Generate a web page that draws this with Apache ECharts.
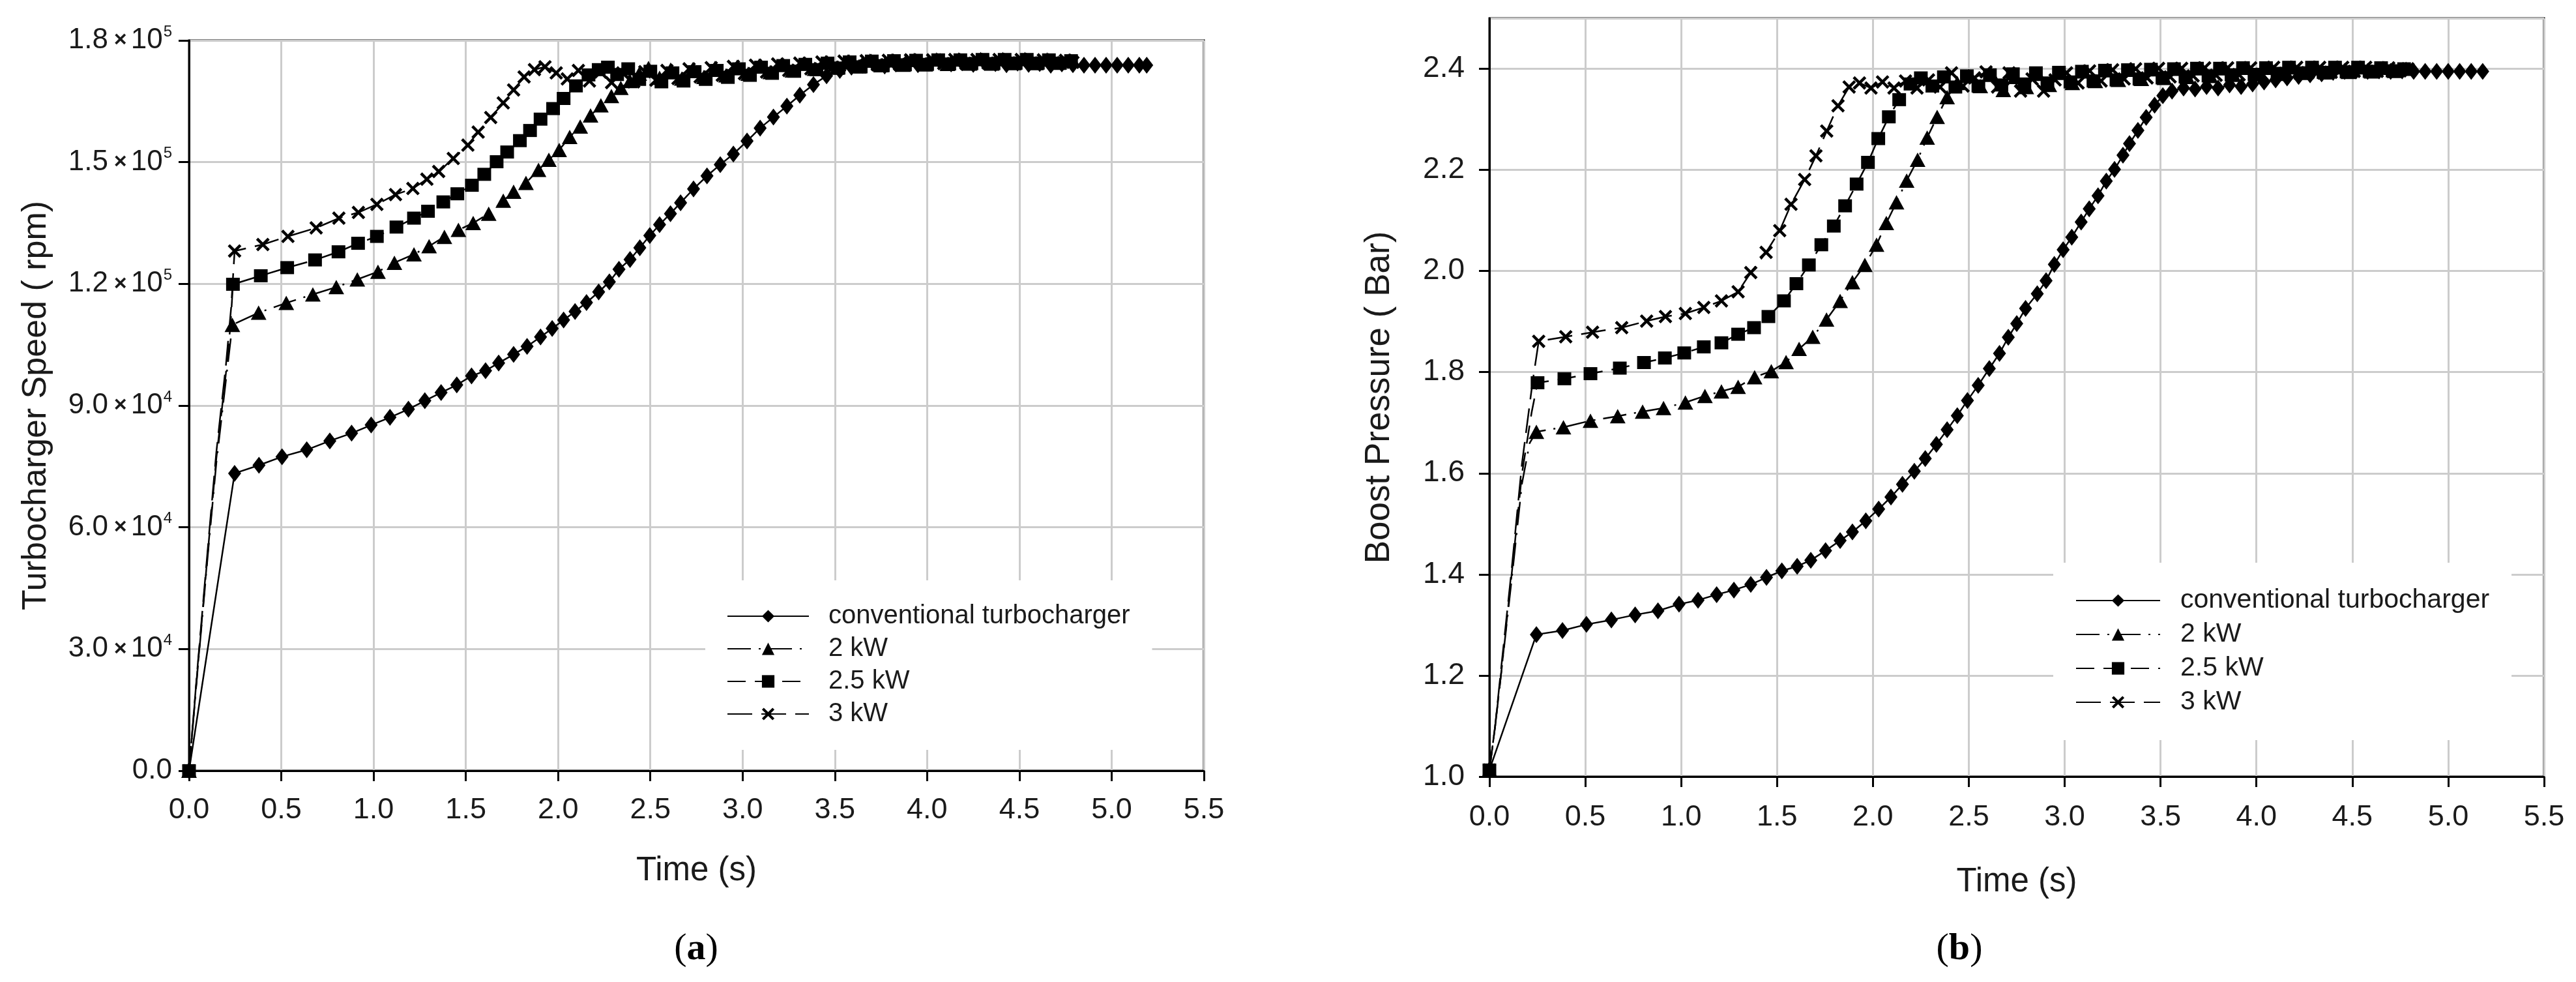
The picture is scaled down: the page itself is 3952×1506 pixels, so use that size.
<!DOCTYPE html>
<html><head><meta charset="utf-8">
<script src="https://cdn.jsdelivr.net/npm/echarts@6/dist/echarts.min.js"></script>
<style>html,body{margin:0;padding:0;background:#fff}#c{width:3952px;height:1506px}</style>
</head><body><div id="c"></div>
<script>
// ---------- DATA ----------
const seriesNames = ['conventional turbocharger', '2 kW', '2.5 kW', '3 kW'];
const timeTicks = [0, 5.5, 0.5];            // min, max, step (s)
const speedTicks = [0, 180000, 30000];      // min, max, step (rpm)
const pressureTicks = [1.0, 2.5, 0.2];      // min, max, step (bar)

// (a) Turbocharger speed [time s, rpm]
const speedConventional = [[0,0],[0.247,73300],[0.379,75300],[0.504,77400],[0.638,79100],[0.763,81300],[0.881,83200],[0.987,85200],[1.089,87100],[1.189,89100],[1.278,91200],[1.366,93200],[1.451,95100],[1.531,97300],[1.607,98600],[1.678,100500],[1.759,102600],[1.832,104600],[1.905,106900],[1.968,109000],[2.03,111100],[2.092,113200],[2.154,115400],[2.22,118000],[2.278,120500],[2.33,123600],[2.39,126000],[2.443,128900],[2.497,131900],[2.55,134600],[2.609,137300],[2.664,140000],[2.734,143400],[2.807,146600],[2.879,149400],[2.95,152000],[3.024,155200],[3.095,158400],[3.167,161100],[3.24,163800],[3.31,166500],[3.384,169100],[3.455,171300],[3.527,172600],[3.59,173400],[3.65,173900],[3.71,174300],[3.77,173700],[3.83,174200],[3.89,174600],[3.95,174000],[4.01,174400],[4.07,174800],[4.13,174200],[4.19,174500],[4.25,174100],[4.31,174600],[4.37,174300],[4.43,174000],[4.49,174400],[4.55,174100],[4.61,174300],[4.67,173900],[4.73,174200],[4.79,174000],[4.85,173900],[4.91,173900],[4.97,173900],[5.03,173900],[5.09,173900],[5.15,173900],[5.19,173900]];
const speed2kW = [[0,0],[0.046,24600],[0.106,55300],[0.148,75900],[0.2,96300],[0.235,109900],[0.377,112900],[0.527,115300],[0.671,117400],[0.798,119200],[0.912,121100],[1.024,123000],[1.113,125200],[1.219,127300],[1.301,129300],[1.384,131600],[1.46,133300],[1.54,135000],[1.624,137300],[1.703,140500],[1.759,142700],[1.826,144900],[1.894,148100],[1.95,150600],[2.006,153000],[2.063,156200],[2.12,158800],[2.176,161500],[2.232,164000],[2.289,166300],[2.34,168300],[2.39,170000],[2.44,171800],[2.49,173200],[2.55,170800],[2.61,172800],[2.67,170600],[2.73,172900],[2.79,171000],[2.85,173200],[2.91,171400],[2.97,173500],[3.03,171800],[3.09,173800],[3.15,172200],[3.21,174000],[3.27,172600],[3.33,174300],[3.39,173000],[3.45,174600],[3.51,173300],[3.57,174800],[3.63,173600],[3.69,175000],[3.75,173900],[3.81,175100],[3.87,174000],[3.93,175200],[3.99,174100],[4.05,175300],[4.11,174200],[4.17,175300],[4.23,174300],[4.29,175400],[4.35,174300],[4.41,175400],[4.47,174400],[4.53,175400],[4.59,174400],[4.65,175300],[4.71,174500],[4.77,175100]];
const speed25kW = [[0,0],[0.046,25000],[0.106,56000],[0.148,77000],[0.2,98000],[0.225,110000],[0.238,119900],[0.389,122000],[0.532,124000],[0.683,125900],[0.81,127900],[0.916,130000],[1.018,131700],[1.124,134000],[1.219,136200],[1.295,137900],[1.378,140200],[1.454,142200],[1.533,144300],[1.6,147000],[1.667,150100],[1.724,152500],[1.793,155300],[1.848,157800],[1.905,160600],[1.973,163200],[2.03,165700],[2.097,168800],[2.165,171500],[2.22,172800],[2.27,173400],[2.32,171600],[2.38,173000],[2.44,170400],[2.5,172400],[2.56,169800],[2.62,172000],[2.68,170000],[2.74,172300],[2.8,170400],[2.86,172600],[2.92,170900],[2.98,173000],[3.04,171400],[3.1,173400],[3.16,171900],[3.22,173800],[3.28,172400],[3.34,174100],[3.4,172800],[3.46,174400],[3.52,173200],[3.58,174700],[3.64,173500],[3.7,174900],[3.76,173800],[3.82,175000],[3.88,174000],[3.94,175100],[4.0,174100],[4.06,175200],[4.12,174200],[4.18,175200],[4.24,174300],[4.3,175300],[4.36,174300],[4.42,175300],[4.48,174400],[4.54,175300],[4.6,174400],[4.66,175200],[4.72,174400],[4.78,175000]];
const speed3kW = [[0,0],[0.046,25500],[0.106,57000],[0.148,78500],[0.2,100000],[0.228,114000],[0.247,128100],[0.4,129700],[0.536,131700],[0.689,133800],[0.812,136200],[0.918,137600],[1.018,139600],[1.119,142000],[1.213,143500],[1.289,145800],[1.353,147700],[1.432,150900],[1.511,154200],[1.567,157400],[1.635,161000],[1.703,164600],[1.759,167800],[1.816,171000],[1.872,172800],[1.929,173500],[1.99,172000],[2.05,170500],[2.11,172600],[2.17,170000],[2.23,172200],[2.29,169600],[2.35,172000],[2.41,169800],[2.47,172300],[2.53,170200],[2.59,172600],[2.65,170600],[2.71,173000],[2.77,171000],[2.83,173300],[2.89,171400],[2.95,173600],[3.01,171800],[3.07,173900],[3.13,172200],[3.19,174200],[3.25,172600],[3.31,174400],[3.37,173000],[3.43,174700],[3.49,173400],[3.55,174900],[3.61,173700],[3.67,175000],[3.73,174000],[3.79,175100],[3.85,174100],[3.91,175200],[3.97,174200],[4.03,175200],[4.09,174300],[4.15,175300],[4.21,174300],[4.27,175300],[4.33,174400],[4.39,175300],[4.45,174400],[4.51,175300],[4.57,174400],[4.63,175200],[4.69,174400],[4.75,175100],[4.79,174600]];

// (b) Boost pressure [time s, bar]
const pressureConventional = [[0,1.013],[0.245,1.281],[0.381,1.289],[0.506,1.301],[0.636,1.310],[0.76,1.320],[0.879,1.328],[0.989,1.341],[1.088,1.349],[1.185,1.360],[1.275,1.369],[1.363,1.380],[1.445,1.394],[1.525,1.407],[1.605,1.416],[1.676,1.428],[1.753,1.447],[1.829,1.467],[1.893,1.484],[1.963,1.506],[2.03,1.529],[2.094,1.553],[2.154,1.578],[2.216,1.604],[2.273,1.629],[2.331,1.657],[2.387,1.686],[2.44,1.714],[2.493,1.744],[2.549,1.774],[2.607,1.807],[2.66,1.837],[2.706,1.869],[2.75,1.896],[2.796,1.926],[2.857,1.955],[2.903,1.981],[2.946,2.013],[2.992,2.042],[3.037,2.067],[3.086,2.097],[3.128,2.123],[3.174,2.149],[3.217,2.178],[3.26,2.201],[3.304,2.229],[3.338,2.252],[3.382,2.278],[3.425,2.304],[3.469,2.328],[3.512,2.347],[3.56,2.356],[3.62,2.362],[3.68,2.360],[3.74,2.365],[3.8,2.362],[3.86,2.368],[3.92,2.365],[3.98,2.370],[4.04,2.374],[4.1,2.378],[4.16,2.382],[4.22,2.385],[4.28,2.388],[4.34,2.390],[4.4,2.393],[4.46,2.395],[4.52,2.396],[4.58,2.395],[4.64,2.396],[4.7,2.395],[4.76,2.396],[4.82,2.395],[4.88,2.395],[4.94,2.395],[5.0,2.395],[5.06,2.395],[5.12,2.395],[5.18,2.395]];
const pressure2kW = [[0,1.013],[0.03,1.1],[0.06,1.2],[0.116,1.39],[0.17,1.58],[0.21,1.66],[0.245,1.682],[0.386,1.691],[0.527,1.704],[0.669,1.713],[0.799,1.722],[0.908,1.729],[1.022,1.740],[1.124,1.753],[1.21,1.762],[1.297,1.771],[1.383,1.790],[1.47,1.802],[1.547,1.820],[1.615,1.846],[1.686,1.870],[1.758,1.904],[1.829,1.941],[1.893,1.978],[1.958,2.012],[2.019,2.052],[2.07,2.095],[2.123,2.136],[2.176,2.179],[2.233,2.220],[2.283,2.264],[2.335,2.305],[2.387,2.344],[2.44,2.372],[2.5,2.386],[2.56,2.366],[2.62,2.388],[2.68,2.358],[2.74,2.384],[2.8,2.364],[2.86,2.390],[2.92,2.368],[2.98,2.392],[3.04,2.372],[3.1,2.395],[3.16,2.376],[3.22,2.397],[3.28,2.378],[3.34,2.398],[3.4,2.380],[3.46,2.399],[3.52,2.382],[3.58,2.400],[3.64,2.384],[3.7,2.401],[3.76,2.386],[3.82,2.401],[3.88,2.388],[3.94,2.402],[4.0,2.389],[4.06,2.402],[4.12,2.390],[4.18,2.403],[4.24,2.392],[4.3,2.403],[4.36,2.393],[4.42,2.403],[4.48,2.394],[4.54,2.403],[4.6,2.395],[4.66,2.402],[4.72,2.396],[4.78,2.400]];
const pressure25kW = [[0,1.013],[0.03,1.1],[0.06,1.2],[0.116,1.40],[0.17,1.60],[0.22,1.72],[0.251,1.779],[0.391,1.787],[0.527,1.797],[0.68,1.808],[0.806,1.819],[0.915,1.828],[1.016,1.838],[1.118,1.850],[1.21,1.858],[1.297,1.875],[1.38,1.888],[1.455,1.910],[1.536,1.941],[1.601,1.975],[1.666,2.012],[1.731,2.052],[1.796,2.089],[1.855,2.129],[1.915,2.172],[1.974,2.215],[2.028,2.262],[2.083,2.305],[2.137,2.339],[2.196,2.370],[2.25,2.382],[2.31,2.366],[2.37,2.384],[2.43,2.364],[2.49,2.386],[2.55,2.366],[2.61,2.388],[2.67,2.368],[2.73,2.390],[2.79,2.370],[2.85,2.392],[2.91,2.372],[2.97,2.393],[3.03,2.374],[3.09,2.395],[3.15,2.376],[3.21,2.397],[3.27,2.378],[3.33,2.398],[3.39,2.380],[3.45,2.399],[3.51,2.382],[3.57,2.400],[3.63,2.384],[3.69,2.401],[3.75,2.386],[3.81,2.401],[3.87,2.388],[3.93,2.402],[3.99,2.389],[4.05,2.402],[4.11,2.391],[4.17,2.403],[4.23,2.392],[4.29,2.403],[4.35,2.393],[4.41,2.403],[4.47,2.394],[4.53,2.403],[4.59,2.395],[4.65,2.402],[4.71,2.396],[4.77,2.400]];
const pressure3kW = [[0,1.013],[0.03,1.1],[0.06,1.21],[0.116,1.41],[0.17,1.62],[0.225,1.78],[0.257,1.861],[0.398,1.870],[0.538,1.879],[0.69,1.888],[0.82,1.901],[0.918,1.910],[1.022,1.916],[1.118,1.928],[1.21,1.941],[1.297,1.959],[1.363,1.997],[1.443,2.037],[1.514,2.080],[1.573,2.132],[1.644,2.181],[1.703,2.228],[1.759,2.277],[1.818,2.327],[1.876,2.364],[1.93,2.372],[1.99,2.362],[2.05,2.374],[2.11,2.362],[2.17,2.376],[2.23,2.362],[2.29,2.378],[2.35,2.364],[2.41,2.392],[2.47,2.366],[2.53,2.382],[2.59,2.394],[2.65,2.364],[2.71,2.392],[2.77,2.356],[2.83,2.380],[2.89,2.356],[2.95,2.378],[3.01,2.392],[3.07,2.372],[3.13,2.396],[3.19,2.376],[3.25,2.398],[3.31,2.380],[3.37,2.400],[3.43,2.382],[3.49,2.401],[3.55,2.384],[3.61,2.401],[3.67,2.386],[3.73,2.402],[3.79,2.387],[3.85,2.402],[3.91,2.388],[3.97,2.402],[4.03,2.389],[4.09,2.403],[4.15,2.391],[4.21,2.403],[4.27,2.392],[4.33,2.403],[4.39,2.393],[4.45,2.403],[4.51,2.395],[4.57,2.403],[4.63,2.395],[4.69,2.402],[4.75,2.396],[4.79,2.400]];

// ---------- STYLE / BUILD ----------
const FONT = '"Liberation Sans", Arial, sans-serif';
const SERIF = '"Liberation Serif", serif';
const TXT = '#1a1a1a';
const crossPath = 'path://M0,3 L3,0 L10,7 L17,0 L20,3 L13,10 L20,17 L17,20 L10,13 L3,20 L0,17 L7,10 Z';
const styles = [
  {symbol:'diamond', size:[20,26], dash:'solid'},
  {symbol:'triangle', size:[24,22], dash:[36,12,3,12]},
  {symbol:'rect', size:[21,20], dash:[28,14]},
  {symbol:crossPath, size:[21,21], dash:[38,14]}
];
// points on the steep initial rise carry no marker
const toData = arr => arr.map(p => (p[0] > 0 && p[0] < 0.23) ? {value:p, symbol:'none'} : {value:p});

function mkSeries(arrs, gridIdx) {
  return arrs.map((arr, i) => ({
    type:'line', name: seriesNames[i], xAxisIndex:gridIdx, yAxisIndex:gridIdx,
    data: toData(arr), symbol: styles[i].symbol, symbolSize: styles[i].size,
    showAllSymbol:true, smooth:false, clip:true,
    lineStyle:{color:'#000', width:2.5, type:styles[i].dash},
    itemStyle:{color:'#000'}, emphasis:{disabled:true}, z: 3 + i
  }));
}

function xAxis(gi, labelMargin, nameGap) {
  return {
    type:'value', gridIndex:gi, min:timeTicks[0], max:timeTicks[1], interval:timeTicks[2],
    name:'Time (s)', nameLocation:'middle', nameGap:nameGap,
    nameTextStyle:{fontSize:51, fontFamily:FONT, color:TXT},
    axisLine:{show:true, onZero:false, lineStyle:{color:'#000', width:3}},
    axisTick:{show:true, inside:false, length:16, lineStyle:{color:'#000', width:3}},
    axisLabel:{fontSize:45, fontFamily:FONT, color:TXT, margin:labelMargin, formatter:v=>v.toFixed(1)},
    splitLine:{show:true, lineStyle:{color:'#cccccc', width:3}}
  };
}

const supFmt = v => {
  if (v === 0) return '{n|0.0}';
  const e = Math.floor(Math.log10(v) + 1e-9);
  const m = (v / Math.pow(10, e)).toFixed(1);
  return '{n|' + m + '}{x|×}{n|10}{s|' + e + '}';
};

const captionRich = {p:{fontSize:58, fontFamily:SERIF, fill:'#000'}, b:{fontSize:58, fontWeight:'bold', fontFamily:SERIF, fill:'#000'}};

const option = {
  animation:false,
  backgroundColor:'#fff',
  grid:[
    {left:290, top:62, width:1557, height:1120, show:true, borderColor:'#000', borderWidth:3, backgroundColor:'transparent'},
    {left:2285, top:28, width:1618, height:1163, show:true, borderColor:'#000', borderWidth:3, backgroundColor:'transparent'}
  ],
  xAxis:[ xAxis(0, 38, 128), xAxis(1, 40, 136) ],
  yAxis:[
    {type:'value', gridIndex:0, min:speedTicks[0], max:speedTicks[1], interval:speedTicks[2],
     name:'Turbocharger Speed ( rpm)', nameLocation:'middle', nameGap:208,
     nameTextStyle:{fontSize:52, fontFamily:FONT, color:TXT},
     axisLine:{show:true, onZero:false, lineStyle:{color:'#000', width:3}},
     axisTick:{show:true, length:16, lineStyle:{color:'#000', width:3}},
     axisLabel:{margin:26, formatter:supFmt,
       rich:{
         n:{fontSize:44, fontFamily:FONT, color:TXT, lineHeight:50},
         x:{fontSize:34, fontWeight:'bold', fontFamily:FONT, color:TXT, lineHeight:50, padding:[0,6,0,9]},
         s:{fontSize:24, fontFamily:FONT, color:TXT, lineHeight:24, padding:[0,0,26,1]}
       }},
     splitLine:{show:true, lineStyle:{color:'#cccccc', width:3}}},
    {type:'value', gridIndex:1, min:pressureTicks[0], max:pressureTicks[1], interval:pressureTicks[2],
     name:'Boost Pressure ( Bar)', nameLocation:'middle', nameGap:142,
     nameTextStyle:{fontSize:53, fontFamily:FONT, color:TXT},
     axisLine:{show:true, onZero:false, lineStyle:{color:'#000', width:3}},
     axisTick:{show:true, length:16, lineStyle:{color:'#000', width:3}},
     axisLabel:{fontSize:46, fontFamily:FONT, color:TXT, margin:38, showMaxLabel:false, formatter:v=>v.toFixed(1)},
     splitLine:{show:true, lineStyle:{color:'#cccccc', width:3}}}
  ],
  legend:[
    {data:seriesNames.map(n=>({name:n})), orient:'vertical', left:1082, top:890,
     padding:[35,34,35,33], backgroundColor:'#fff', itemWidth:125, itemHeight:24, itemGap:10,
     textStyle:{fontSize:40, fontFamily:FONT, color:TXT, lineHeight:40, padding:[0,0,0,25]},
     selectedMode:false},
    {data:seriesNames.map(n=>({name:n})), orient:'vertical', left:3150, top:863,
     padding:[37,34,37,34], backgroundColor:'#fff', itemWidth:129, itemHeight:24, itemGap:10,
     textStyle:{fontSize:41, fontFamily:FONT, color:TXT, lineHeight:42, padding:[0,0,0,26]},
     selectedMode:false}
  ],
  graphic:[
    {type:'text', x:1068, y:1456, style:{text:'{p|(}{b|a}{p|)}', align:'center', verticalAlign:'middle', rich:captionRich}},
    {type:'text', x:3006, y:1456, style:{text:'{p|(}{b|b}{p|)}', align:'center', verticalAlign:'middle', rich:captionRich}}
  ],
  series:[
    ...mkSeries([speedConventional, speed2kW, speed25kW, speed3kW], 0),
    ...mkSeries([pressureConventional, pressure2kW, pressure25kW, pressure3kW], 1)
  ]
};
const chart = echarts.init(document.getElementById('c'), null, {renderer:'canvas', width:3952, height:1506});
chart.setOption(option);
</script>
</body></html>
